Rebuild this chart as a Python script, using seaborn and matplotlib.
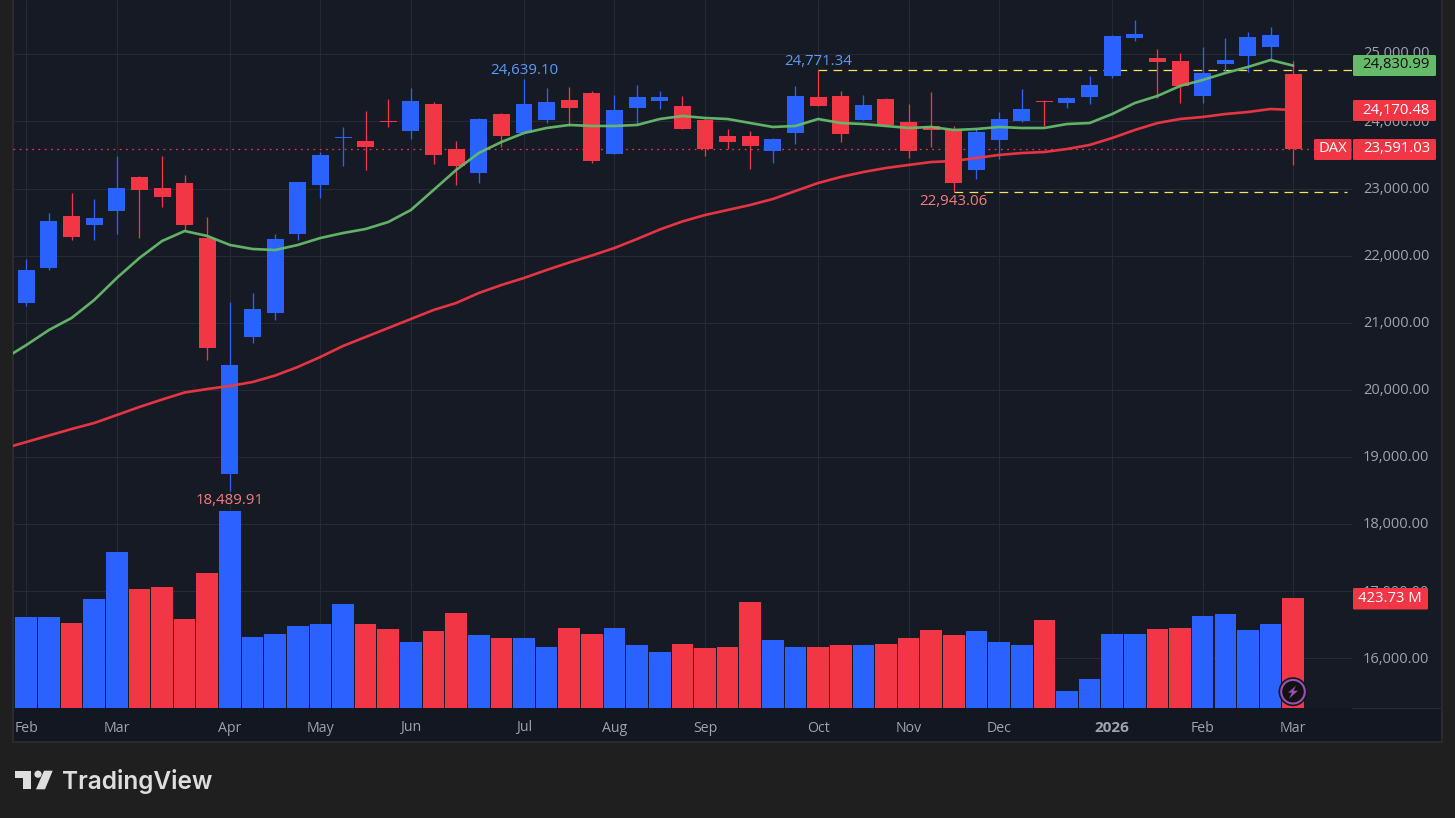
import numpy as np
import pandas as pd
import seaborn as sns
import matplotlib
matplotlib.use("Agg")
import matplotlib.pyplot as plt
from matplotlib.patches import Rectangle, Polygon, Circle, FancyBboxPatch
from matplotlib.lines import Line2D
from matplotlib.transforms import ScaledTranslation

opens = [21294,21816,22591,22456,22665,23172,23008,23082,22263,18746,20788,21145,22322,23052,23760,23708,24012,23857,24259,23589,
         23231,24110,23827,24021,24319,24423,23514,24200,24304,24230,24021,23783,23783,23559,23827,24364,24379,24021,24334,23991,
         23932,23887,23276,23723,24006,24309,24274,24364,24677,25243,24945,24900,24379,24855,24975,25109,24706]
closes = [21786,22516,22278,22561,23008,22978,22874,22456,20624,20371,21205,22248,23097,23500,23775,23619,23998,24304,23500,23336,
          24036,23783,24259,24289,24200,23410,24170,24364,24364,23887,23589,23693,23634,23738,24379,24230,23812,24245,23947,23559,
          23872,23082,23842,24036,24185,24294,24349,24543,25273,25302,24885,24528,24721,24915,25258,25288,23591.03]
highs = [21950,22635,22933,22844,23485,23180,23485,23202,22576,21309,21443,22322,23100,23544,23917,24155,24334,24498,24289,23708,
         24051,24125,24639.10,24498,24513,24453,24394,24543,24453,24379,24051,23887,23857,23753,24528,24771.34,24453,24394,24349,24259,
         24438,23932,23902,24140,24483,24312,24364,24677,25288,25511,25079,25019,25109,25243,25332,25407,24900]
lows = [21250,21786,22233,22233,22322,22263,22725,22367,20445,18489.91,20698,21041,22233,22859,23336,23276,23917,23738,23365,23052,
        23082,23619,23827,23976,23932,23380,23514,23947,24185,23887,23485,23589,23291,23380,23663,24230,23693,24021,23932,23455,
        23619,22943.06,23142,23440,23991,23932,24200,24259,24647,25198,24349,24274,24274,24721,24736,24915,23351]
volumes = [350.5,350.5,327.4,419.9,600.9,458.4,466.1,342.8,520.0,758.8,273.5,285.0,315.9,323.6,400.6,323.6,304.3,254.2,296.6,365.9,
           281.2,269.6,269.6,235.0,308.2,285.0,308.2,242.7,215.7,246.5,231.1,235.0,408.3,261.9,235.0,235.0,242.7,242.7,246.5,269.6,
           300.5,281.2,296.6,254.2,242.7,339.0,65.5,111.7,285.0,285.0,304.3,308.2,354.4,362.1,300.5,323.6,423.73]
ma_fast = [20460,20668,20892,21071,21339,21667,21965,22218,22367,22293,22159,22099,22084,22159,22263,22337,22397,22501,22680,22978,
           23276,23529,23693,23827,23902,23947,23932,23932,23947,24036,24081,24051,24036,23976,23917,23932,24036,23976,23961,23932,
           23902,23917,23872,23887,23917,23902,23902,23961,23976,24110,24274,24379,24528,24617,24721,24811,24915,24830.99]
ma_slow = [19126,19223,19320,19417,19506,19625,19745,19856,19961,20013,20058,20117,20214,20341,20490,20654,20788,20922,21056,21190,
           21294,21443,21562,21667,21786,21898,22002,22114,22248,22389,22509,22605,22680,22755,22844,22963,23082,23172,23246,23306,
           23351,23395,23410,23455,23500,23529,23544,23589,23649,23753,23872,23976,24036,24066,24110,24140,24185,24170.48]
month_idx = [0,4,9,13,17,22,26,30,35,39,43,48,52,56]
month_lab = ["Feb","Mar","Apr","May","Jun","Jul","Aug","Sep","Oct","Nov","Dec","2026","Feb","Mar"]
price_ticks = [25000,24000,23000,22000,21000,20000,19000,18000,17000,16000]

BLUE, RED, GREEN = "#2962ff", "#f23645", "#66bb6a"
BG, OUTER, AXISBG, GRID = "#161a25", "#1f1f1f", "#131722", "#262a35"
TXT = "#a0a3ac"
FONT = "Open Sans"

sns.set_theme(style="dark")
plt.rcParams["font.family"] = [FONT, "DejaVu Sans"]

W, H = 1455, 818
fig = plt.figure(figsize=(W/100, H/100), dpi=100, facecolor=OUTER)
fx = lambda x: x/W
fy = lambda y: 1-y/H
L, R, B = 13, 1352, 708

fig.add_artist(Rectangle((fx(13), fy(742)), (1442-13)/W, 752/H, transform=fig.transFigure,
                         fc=BG, ec="#2b2b2b", lw=1.5, zorder=-2))
fig.add_artist(Rectangle((fx(14), fy(741)), (1441-14)/W, 33/H, transform=fig.transFigure,
                         fc=AXISBG, ec="none", zorder=-1))
fig.add_artist(Line2D([fx(R), fx(1442)], [fy(707.5)]*2, transform=fig.transFigure, color=GRID, lw=0.8, zorder=-1))

ax = fig.add_axes([fx(L), fy(B), (R-L)/W, B/H])
ax.set_facecolor("none")
ax2 = ax.twinx()
ax2.patch.set_visible(False)

n = len(opens)
idx = np.arange(n)
df = pd.DataFrame({"i": idx, "o": opens, "c": closes, "h": highs, "l": lows, "v": volumes})
df["up"] = df.c >= df.o
df["col"] = np.where(df.up, "blue", "red")
pal = {"blue": BLUE, "red": RED}

# volume
sns.barplot(data=df, x="i", y="v", hue="col", palette=pal, native_scale=True, dodge=False,
            width=0.955, gap=0, saturation=1, legend=False, ax=ax2, edgecolor="none", linewidth=0)
ax2.set_ylim(0, 2727)
ax2.yaxis.set_visible(False)
ax2.set_ylabel("")

# candles
cols = [BLUE if u else RED for u in df.up]
ax.vlines(df.i, df.l, df.h, colors=cols, lw=0.95, zorder=3)
ax.bar(df.i, (df.c-df.o).abs(), bottom=df[["o", "c"]].min(axis=1), width=0.75, color=cols, zorder=4, lw=0)

# moving averages
ma = pd.DataFrame({"i": np.arange(-1, n), "fast": ma_fast, "slow": ma_slow})
sns.lineplot(data=ma, x="i", y="fast", color=GREEN, lw=1.9, estimator=None, ax=ax, zorder=5, alpha=0.95)
sns.lineplot(data=ma, x="i", y="slow", color=RED, lw=1.9, estimator=None, ax=ax, zorder=5, alpha=0.95)

x0, x1 = -0.588, 58.6
ax.set_xlim(x0, x1)
ax.set_ylim(15260, 25809)

# level lines
last = closes[-1]
ax.plot([x0, x1], [last, last], color=RED, lw=0.9, ls=(0, (1.4, 3.6)), zorder=2)
ihi = 35
ilo = 41
YEL = "#f2e55c"
ax.plot([ihi, x1], [highs[ihi]]*2, color=YEL, lw=0.9, ls=(0, (7, 5)), zorder=2)
ax.plot([ilo, 58.4], [lows[ilo]]*2, color=YEL, lw=0.9, ls=(0, (7, 5)), zorder=2)

# axes styling
ax.set_xticks(month_idx, month_lab)
ax.set_yticks(price_ticks, [f"{t:,.2f}" for t in price_ticks])
ax.yaxis.tick_right()
ax.yaxis.set_label_position("right")
ax.set_xlabel(""); ax.set_ylabel("")
ax.tick_params(axis="x", length=0, pad=9, labelsize=10.2, labelcolor=TXT)
ax.tick_params(axis="y", length=0, pad=8, labelsize=10.5, labelcolor=TXT, right=False, left=False)
ax.grid(True, color=GRID, lw=0.8)
ax.set_axisbelow(True)
for a in (ax, ax2):
    for s in a.spines.values():
        s.set_visible(False)
ax.get_xticklabels()[11].set_fontweight("bold")
ax.get_xticklabels()[11].set_fontsize(11)
ax2.tick_params(axis="x", length=0, labelbottom=False)
for t, lab in zip(price_ticks, ax.get_yticklabels()):
    up = 3.0 if t == 25000 else 1.2
    lab.set_transform(lab.get_transform() + ScaledTranslation(0, up/100, fig.dpi_scale_trans))

# high/low annotations
LB, LR = "#5b9cf6", "#f77c80"
for i, v, dy, c in [(22, highs[22], 70, LB), (35, highs[35], 61, LB), (41, lows[41], 201, LR), (9, lows[9], 500, LR)]:
    ax.text(i, 25809-14.9*dy, f"{v:,.2f}", color=c, fontsize=10.8, ha="center", va="center", zorder=6)

# price tags
def tag(x0p, x1p, y0p, y1p, s, fc, tc="white", ha="right", weight="medium"):
    fig.add_artist(FancyBboxPatch((fx(x0p), fy(y1p)), (x1p-x0p)/W, (y1p-y0p)/H, transform=fig.transFigure,
                                  boxstyle="round,pad=0,rounding_size=0.0012", fc=fc, ec="none", zorder=8))
    tx = x1p-6 if ha == "right" else (x0p+x1p)/2
    fig.text(fx(tx), fy((y0p+y1p)/2-0.5), s, color=tc, fontsize=10.7, ha=ha, va="center", zorder=9, weight=weight)

tag(1353, 1436, 55, 76, f"{ma_fast[-1]:,.2f}", GREEN, "#0c120c")
tag(1353, 1436, 100, 121, f"{ma_slow[-1]:,.2f}", RED)
tag(1353, 1436, 139, 160, f"{last:,.2f}", RED)
tag(1314, 1351.5, 139, 160, "DAX", RED, ha="center")
tag(1353, 1428, 588, 609.5, f"{volumes[-1]:.2f} M", RED)

# bolt badge
cx, cy = 1293, 691.7
disp = fig.dpi_scale_trans
def pxT(x, y):
    return (x/100, (H-y)/100)
fig.add_artist(Circle(pxT(cx, cy), 0.145, transform=disp, fc="#131722", ec="none", zorder=8))
fig.add_artist(Circle(pxT(cx, cy), 0.118, transform=disp, fc="#121212", ec="#9c4fb5", lw=1.5, zorder=8))
bolt = [(3, -6), (-5, 1), (-1, 1), (-4, 7), (5, -1), (0.5, -1)]
fig.add_artist(Polygon([pxT(cx+a, cy+b) for a, b in bolt], closed=True, transform=disp, fc="#9c4fb5", ec="none", zorder=9))

# logo
LOGO = "#dedede"
fig.add_artist(Polygon([pxT(*p) for p in [(15, 770.7), (31, 770.7), (31, 789.3), (23.3, 789.3), (23.3, 778.3), (15, 778.3)]],
                       closed=True, transform=disp, fc=LOGO, ec="none"))
fig.add_artist(Circle(pxT(38, 774.2), 0.036, transform=disp, fc=LOGO, ec="none"))
fig.add_artist(Polygon([pxT(*p) for p in [(44, 770.7), (52.7, 770.7), (45, 789.3), (36, 789.3)]],
                       closed=True, transform=disp, fc=LOGO, ec="none"))
fig.text(fx(61.5), fy(781), "TradingView", color=LOGO, fontsize=17.6, family="Inter", weight="semibold", ha="left", va="center")

fig.savefig("out.png", dpi=100, facecolor=OUTER)
